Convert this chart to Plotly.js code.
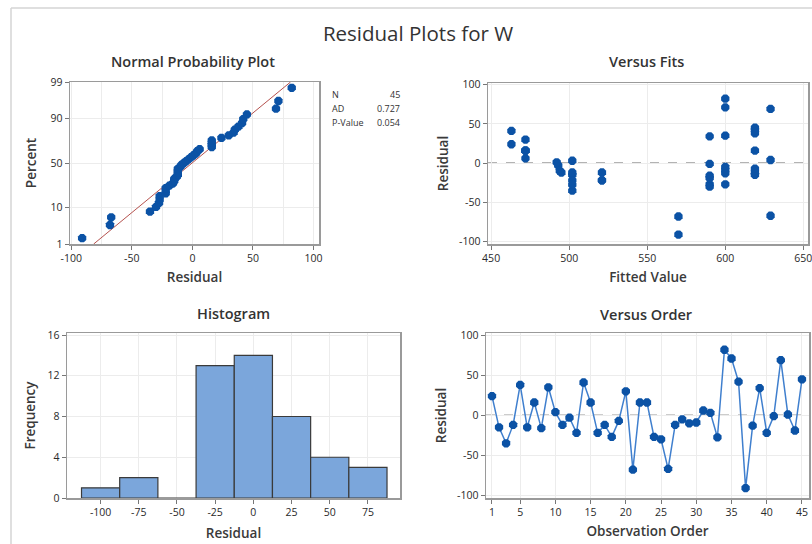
<!DOCTYPE html>
<html>
<head>
<meta charset="utf-8">
<script src="https://cdn.plot.ly/plotly-3.0.1.min.js"></script>
<style>html,body{margin:0;padding:0;background:#fff;}#chart{width:812px;height:544px;}</style>
</head>
<body>
<div id="chart"></div>
<script>
// ---- data ----
const observationOrder = Array.from({length: 45}, (_, i) => i + 1);
const residuals = [24,-15,-35,-12,38,-15,16,-16,35,4,-12,-3,-22,41,16,-22,-12,-27,-7,30,-68,16,16,-27,-30,-67,-12,-5,-10,-9,6,3,-27.5,82,71,42,-91,-13,34,-22,-1,69,1,-19,45];
const fittedValues = [463,619,502,619,619,502,472,590,600,629,521,493,521,463,472,502,495,590,619,472,570,472,619,600,590,629,502,600,494,600,472,502,502,600,600,619,570,600,590,521,590,629,492,590,619];
const histBinCenters = [-100,-75,-50,-25,0,25,50,75];
const histCounts = [1,2,0,13,14,8,4,3];
const percentTicks = [1,10,50,90,99];
const statLabels = ["N","AD","P-Value"];
const statValues = ["45","0.727","0.054"];
const residualTicks = [-100,-50,0,50,100];
const fitTicks = [450,500,550,600,650];
const freqTicks = [0,4,8,12,16];
const orderTicks = [1,5,10,15,20,25,30,35,40,45];

// ---- helpers ----
function normInv(p){
  const a=[-3.969683028665376e+01,2.209460984245205e+02,-2.759285104469687e+02,1.383577518672690e+02,-3.066479806614716e+01,2.506628277459239e+00];
  const b=[-5.447609879822406e+01,1.615858368580409e+02,-1.556989798598866e+02,6.680131188771972e+01,-1.328068155288572e+01];
  const c=[-7.784894002430293e-03,-3.223964580411365e-01,-2.400758277161838e+00,-2.549732539343734e+00,4.374664141464968e+00,2.938163982698783e+00];
  const d=[7.784695709041462e-03,3.224671290700398e-01,2.445134137142996e+00,3.754408661907416e+00];
  const pl=0.02425, ph=1-pl; let q,r;
  if(p<pl){q=Math.sqrt(-2*Math.log(p));return (((((c[0]*q+c[1])*q+c[2])*q+c[3])*q+c[4])*q+c[5])/((((d[0]*q+d[1])*q+d[2])*q+d[3])*q+1);}
  if(p<=ph){q=p-0.5;r=q*q;return (((((a[0]*r+a[1])*r+a[2])*r+a[3])*r+a[4])*r+a[5])*q/(((((b[0]*r+b[1])*r+b[2])*r+b[3])*r+b[4])*r+1);}
  q=Math.sqrt(-2*Math.log(1-p));return -(((((c[0]*q+c[1])*q+c[2])*q+c[3])*q+c[4])*q+c[5])/((((d[0]*q+d[1])*q+d[2])*q+d[3])*q+1);
}
const n = residuals.length;
const sortedRes = residuals.slice().sort((a,b)=>a-b);
const zScores = sortedRes.map((_, i) => normInv((i + 1 - 0.3) / (n + 0.4)));
const mean = residuals.reduce((s,v)=>s+v,0)/n;
const sd = Math.sqrt(residuals.reduce((s,v)=>s+(v-mean)*(v-mean),0)/(n-1));
const zLo = normInv(0.01), zHi = normInv(0.99);
const txt = v => String(v); // plain hyphen minus, as in the reference

// ---- layout geometry (pixels) ----
const W = 812, H = 544;
const dx = (a,b) => [a/W, b/W];
const dy = (top,bottom) => [1-bottom/H, 1-top/H];

const blue = '#0B52A5';
const fontFam = '"Open Sans", "Noto Sans", sans-serif';
const tickFont = {family: fontFam, size: 10.5, color: '#2a2a2a'};
const axTitleFont = {family: fontFam, size: 13.5, color: '#3a3a3a', weight: 600};
const axisBase = {
  showline: true, mirror: true, linecolor: '#9a9a9a', linewidth: 1.5,
  ticks: 'outside', ticklen: 4, tickcolor: '#777', tickwidth: 1,
  showgrid: true, gridcolor: '#ececec', gridwidth: 1, zeroline: false,
  tickfont: tickFont, ticklabeloverflow: 'allow'
};
function ax(extra){ return Object.assign({}, axisBase, extra); }

const mk = {color: blue, size: 9, symbol: 'octagon'};
const traces = [
  // Normal probability plot
  {x: [mean + sd*zLo, mean + sd*zHi], y: [zLo, zHi], xaxis: 'x', yaxis: 'y', mode: 'lines',
   line: {color: '#B5524E', width: 1}, hoverinfo: 'skip'},
  {x: sortedRes, y: zScores, xaxis: 'x', yaxis: 'y', mode: 'markers', marker: mk},
  // Versus fits
  {x: fittedValues, y: residuals, xaxis: 'x2', yaxis: 'y2', mode: 'markers', marker: mk},
  // Histogram
  {x: histBinCenters, y: histCounts, xaxis: 'x3', yaxis: 'y3', type: 'bar', width: 25,
   marker: {color: '#7BA6DB', line: {color: '#3a3a3a', width: 1.2}}},
  // Versus order
  {x: observationOrder, y: residuals, xaxis: 'x4', yaxis: 'y4', mode: 'lines+markers',
   line: {color: '#3F7FCE', width: 1.5}, marker: mk}
];

const zeroLine = (xr, yr) => ({type: 'line', xref: xr + ' domain', x0: 0, x1: 1, yref: yr, y0: 0, y1: 0,
  line: {color: '#9a9a9a', width: 1.5, dash: 'dash'}, layer: 'below'});

const annotations = [
  {text: 'Normal Probability Plot', x: 193/W, y: 1-61/H},
  {text: 'Versus Fits', x: 646/W, y: 1-61/H},
  {text: 'Histogram', x: 233/W, y: 1-313/H},
  {text: 'Versus Order', x: 646/W, y: 1-314/H}
].map(a => Object.assign(a, {xref: 'paper', yref: 'paper', showarrow: false, xanchor: 'center', yanchor: 'middle',
  font: {family: fontFam, size: 14.5, color: '#333', weight: 600}}));

statLabels.forEach((lab, i) => {
  annotations.push({text: lab, x: 330/W, y: 1-(94 + i*14.5)/H, xref: 'paper', yref: 'paper', showarrow: false,
    xanchor: 'left', yanchor: 'middle', font: {family: fontFam, size: 9, color: '#333'}});
  annotations.push({text: statValues[i], x: 402/W, y: 1-(94 + i*14.5)/H, xref: 'paper', yref: 'paper', showarrow: false,
    xanchor: 'right', yanchor: 'middle', font: {family: fontFam, size: 9, color: '#333'}});
});

const layout = {
  width: W, height: H, margin: {l: 0, r: 0, t: 0, b: 0},
  paper_bgcolor: '#fff', plot_bgcolor: '#fff', showlegend: false,
  title: {text: 'Residual Plots for W', x: 418/W, xanchor: 'center', y: 1-34/H, yanchor: 'middle',
    font: {family: fontFam, size: 20.5, color: '#333'}},
  xaxis: ax({domain: dx(70,319), anchor: 'y', range: [-101, 104.5], tickvals: residualTicks, ticktext: residualTicks.map(txt),
    minor: {dtick: 25, tick0: 0, showgrid: true, gridcolor: '#ececec', ticks: ''},
    title: {text: 'Residual', font: axTitleFont, standoff: 8}}),
  yaxis: ax({domain: dy(82,244), anchor: 'x', range: [zLo, zHi],
    tickvals: percentTicks.map(p => normInv(p/100)), ticktext: percentTicks.map(String),
    title: {text: 'Percent', font: axTitleFont, standoff: 10}}),
  xaxis2: ax({domain: dx(488,808), anchor: 'y2', range: [448, 653], tickvals: fitTicks, ticktext: fitTicks.map(txt),
    title: {text: 'Fitted Value', font: axTitleFont, standoff: 8}}),
  yaxis2: ax({domain: dy(83,244), anchor: 'x2', range: [-103, 102], tickvals: residualTicks, ticktext: residualTicks.map(txt),
    title: {text: 'Residual', font: axTitleFont, standoff: 7}}),
  xaxis3: ax({domain: dx(67,400), anchor: 'y3', range: [-122, 96], tickvals: histBinCenters, ticktext: histBinCenters.map(txt),
    title: {text: 'Residual', font: axTitleFont, standoff: 10}}),
  yaxis3: ax({domain: dy(333,498), anchor: 'x3', range: [0, 16.2], tickvals: freqTicks, ticktext: freqTicks.map(txt),
    title: {text: 'Frequency', font: axTitleFont, standoff: 8}}),
  xaxis4: ax({domain: dx(486,809), anchor: 'y4', range: [0.15, 46], tickvals: orderTicks, ticktext: orderTicks.map(txt),
    title: {text: 'Observation Order', font: axTitleFont, standoff: 8}}),
  yaxis4: ax({domain: dy(333,498), anchor: 'x4', range: [-103.4, 102.9], tickvals: residualTicks, ticktext: residualTicks.map(txt),
    title: {text: 'Residual', font: axTitleFont, standoff: 7}}),
  shapes: [
    zeroLine('x2', 'y2'), zeroLine('x4', 'y4'),
    {type: 'line', xref: 'paper', yref: 'paper', x0: 11/W, x1: 1, y0: 1-8/H, y1: 1-8/H, line: {color: '#d4d4d4', width: 1.5}},
    {type: 'line', xref: 'paper', yref: 'paper', x0: 11/W, x1: 11/W, y0: 0, y1: 1-8/H, line: {color: '#d4d4d4', width: 1.5}}
  ],
  annotations: annotations,
  bargap: 0
};

Plotly.newPlot('chart', traces, layout, {staticPlot: true, displayModeBar: false});
</script>
</body>
</html>
